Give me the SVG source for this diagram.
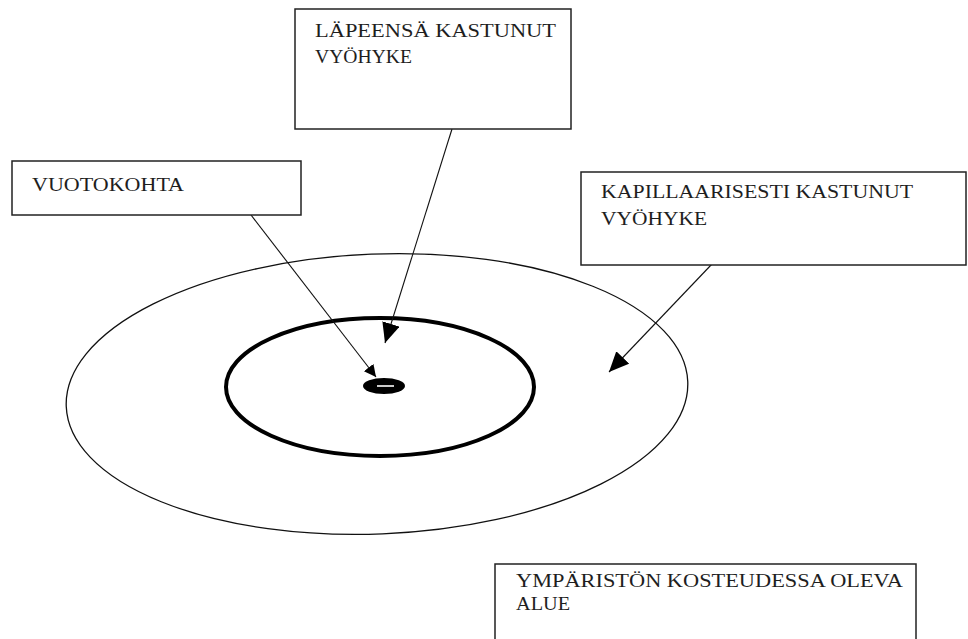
<svg xmlns="http://www.w3.org/2000/svg" width="968" height="639" viewBox="0 0 968 639">
<style>
.box{fill:#fff;stroke:#222;stroke-width:1.5}
.lbl{font-family:"Liberation Serif","Times New Roman",serif;font-size:19px;fill:#1e1e1e}
.conn{stroke:#111;stroke-width:1.1;fill:none}
</style>
<defs>
<marker id="ah" markerUnits="userSpaceOnUse" markerWidth="22" markerHeight="20" refX="20" refY="9" orient="auto">
<path d="M0,0 L20,9 L0,18 Z" fill="#000"/>
</marker>
<marker id="ahs" markerUnits="userSpaceOnUse" markerWidth="14" markerHeight="14" refX="12" refY="6" orient="auto">
<path d="M0,0 L12,6 L0,12 Z" fill="#000"/>
</marker>
</defs>
<rect width="968" height="639" fill="#fff"/>
<g id="zones">
<ellipse cx="377" cy="394" rx="311" ry="140" transform="rotate(-2.3 377 394)" fill="none" stroke="#111" stroke-width="1.3"/>
<ellipse cx="380" cy="387" rx="154" ry="69" fill="none" stroke="#000" stroke-width="4"/>
<g id="leak">
<ellipse cx="384" cy="386" rx="21" ry="8" fill="#000"/>
<line x1="377" y1="386" x2="394" y2="386" stroke="#fff" stroke-width="1.6"/>
</g>
</g>
<g id="connectors">
<line class="conn" x1="452" y1="129" x2="385" y2="343" marker-end="url(#ah)"/>
<line class="conn" x1="251" y1="215" x2="376" y2="377" marker-end="url(#ahs)"/>
<line class="conn" x1="712" y1="264" x2="609" y2="372" marker-end="url(#ah)"/>
</g>
<g id="node-lapeensa">
<rect class="box" x="295" y="9" width="276" height="120"/>
<text class="lbl" x="315" y="37" textLength="241" lengthAdjust="spacingAndGlyphs">LÄPEENSÄ KASTUNUT</text>
<text class="lbl" x="315" y="63" textLength="97" lengthAdjust="spacingAndGlyphs">VYÖHYKE</text>
</g>
<g id="node-vuotokohta">
<rect class="box" x="12" y="161" width="289" height="54"/>
<text class="lbl" x="32" y="191" textLength="152" lengthAdjust="spacingAndGlyphs">VUOTOKOHTA</text>
</g>
<g id="node-kapillaari">
<rect class="box" x="581" y="172" width="385" height="93"/>
<text class="lbl" x="601" y="198" textLength="312" lengthAdjust="spacingAndGlyphs">KAPILLAARISESTI KASTUNUT</text>
<text class="lbl" x="601" y="225" textLength="106" lengthAdjust="spacingAndGlyphs">VYÖHYKE</text>
</g>
<g id="node-ymparisto">
<rect class="box" x="495" y="564" width="421" height="90"/>
<text class="lbl" x="516" y="587" textLength="387" lengthAdjust="spacingAndGlyphs">YMPÄRISTÖN KOSTEUDESSA OLEVA</text>
<text class="lbl" x="516" y="610" textLength="54" lengthAdjust="spacingAndGlyphs">ALUE</text>
</g>
</svg>
